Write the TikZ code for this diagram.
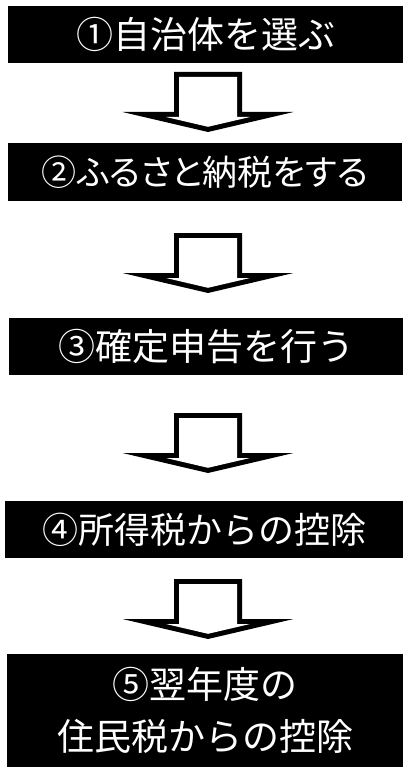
\documentclass[tikz,border=0pt]{standalone}
\usepackage{fontspec}
\newfontfamily\jpfont{Noto Sans CJK JP}
\newfontfamily\jpfontp[RawFeature=+palt]{Noto Sans CJK JP}
\begin{document}
\begin{tikzpicture}[x=1pt,y=-1pt,
  stepbox/.style={fill=black,text=white,inner sep=0pt,anchor=center,
    font=\jpfont\fontsize{37}{52}\selectfont,align=center},
  blockarrow/.pic={
    \fill[black] (-34,0) -- (34,0) -- (34,40) -- (85.5,40) -- (0,60) -- (-85.5,40) -- (-34,40) -- cycle;
    \fill[white] (-29,5) -- (29,5) -- (29,45) -- (42,45) -- (0,54.8) -- (-42,45) -- (-29,45) -- cycle;
  }]
\useasboundingbox (0,0) rectangle (404,767);
\node[stepbox,minimum width=395pt,minimum height=57pt] (b1) at (205.5,34.5) {①自治体を選ぶ};
\node[stepbox,minimum width=394pt,minimum height=58pt,font=\jpfontp\fontsize{35}{52}\selectfont] (b2) at (205,172) {②ふるさと納税をする};
\node[stepbox,minimum width=394pt,minimum height=57pt] (b3) at (206,346.5) {③確定申告を行う};
\node[stepbox,minimum width=398pt,minimum height=57pt,font=\jpfont\fontsize{36}{52}\selectfont] (b4) at (204,529.5) {④所得税からの控除};
\node[stepbox,minimum width=396pt,minimum height=113pt] (b5) at (205,710.5) {⑤翌年度の\\住民税からの控除};
\coordinate (a1) at (208,72);
\coordinate (a2) at (208,233);
\coordinate (a3) at (208,413);
\coordinate (a4) at (208,579);
\pic at (a1) {blockarrow};
\pic at (a2) {blockarrow};
\pic at (a3) {blockarrow};
\pic at (a4) {blockarrow};
\end{tikzpicture}
\end{document}
